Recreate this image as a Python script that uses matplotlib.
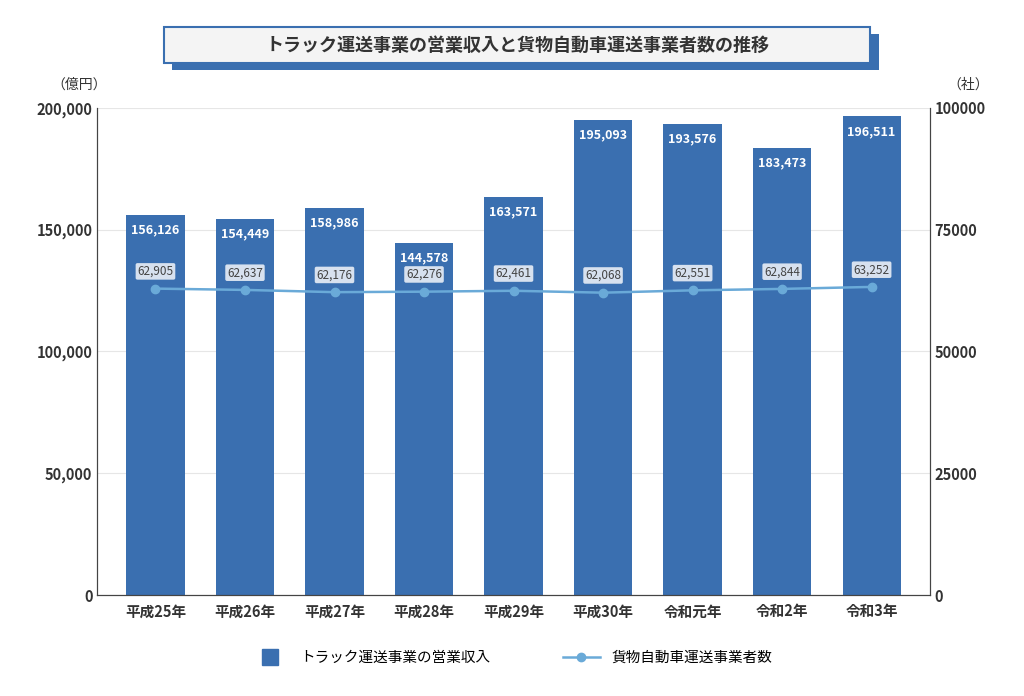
import matplotlib
matplotlib.use("Agg")
import matplotlib.pyplot as plt
from matplotlib.patches import Rectangle
from matplotlib.lines import Line2D

plt.rcParams["font.family"] = "Noto Sans CJK JP"

years = ["平成25年", "平成26年", "平成27年", "平成28年", "平成29年",
         "平成30年", "令和元年", "令和2年", "令和3年"]
revenue = [156126, 154449, 158986, 144578, 163571, 195093, 193576, 183473, 196511]
companies = [62905, 62637, 62176, 62276, 62461, 62068, 62551, 62844, 63252]

BAR = "#3a6fb0"
LINE = "#6aaad8"
TXT = "#333333"

fig = plt.figure(figsize=(10.24, 6.96), dpi=100)
ax = fig.add_axes([0.095, 0.145, 0.813, 0.70])
ax2 = ax.twinx()

x = range(len(years))
ax.bar(x, revenue, width=0.65, color=BAR, zorder=2)
for i, v in enumerate(revenue):
    ax.text(i, v - 3500, f"{v:,}", ha="center", va="top", color="white",
            fontsize=9, fontweight="bold", zorder=3)

ax.set_ylim(0, 200000)
ax.set_xlim(-0.65, len(years) - 0.35)
ax.set_yticks(range(0, 200001, 50000))
ax.set_yticklabels([f"{v:,}" for v in range(0, 200001, 50000)])
ax.set_xticks(list(x))
ax.set_xticklabels(years)
ax.grid(axis="y", color="#e6e6e6", lw=0.8, zorder=0)
ax.set_axisbelow(True)

ax2.plot(x, companies, color=LINE, lw=1.8, marker="o", ms=6, zorder=4)
for i, v in enumerate(companies):
    ax2.text(i, v + 2200, f"{v:,}", ha="center", va="bottom", color="#444444",
             fontsize=8.5, bbox=dict(boxstyle="round,pad=0.15", fc="white", ec="none", alpha=0.8))
ax2.set_ylim(0, 100000)
ax2.set_yticks(range(0, 100001, 25000))

for a in (ax, ax2):
    for s in ("top",):
        a.spines[s].set_visible(False)
    a.spines["left"].set_color("#444444")
    a.spines["right"].set_color("#444444")
    a.spines["bottom"].set_color("#444444")
    a.tick_params(colors=TXT, labelsize=10.5, length=0)
    for lbl in a.get_yticklabels() + a.get_xticklabels():
        lbl.set_fontweight("bold")
ax.tick_params(axis="x", pad=6)

fig.text(0.05, 0.872, "（億円）", fontsize=10, color=TXT, ha="left")
fig.text(0.925, 0.872, "（社）", fontsize=10, color=TXT, ha="left")

# title box with offset shadow
fig.patches.append(Rectangle((0.168, 0.899), 0.69, 0.052, transform=fig.transFigure,
                             fc=BAR, ec="none", zorder=1))
fig.patches.append(Rectangle((0.160, 0.909), 0.69, 0.052, transform=fig.transFigure,
                             fc="#f4f4f4", ec=BAR, lw=1.5, zorder=2))
fig.text(0.505, 0.935, "トラック運送事業の営業収入と貨物自動車運送事業者数の推移",
         ha="center", va="center", fontsize=13, fontweight="bold", color=TXT, zorder=3)

handles = [Line2D([], [], color=BAR, marker="s", ls="none", ms=12),
           Line2D([], [], color=LINE, marker="o", lw=1.8, ms=6)]
fig.legend(handles, ["トラック運送事業の営業収入", "貨物自動車運送事業者数"],
           loc="center", bbox_to_anchor=(0.5, 0.055), ncol=2, frameon=False,
           fontsize=10.5, columnspacing=5, handlelength=2.5)

fig.savefig("out.png", dpi=100)
